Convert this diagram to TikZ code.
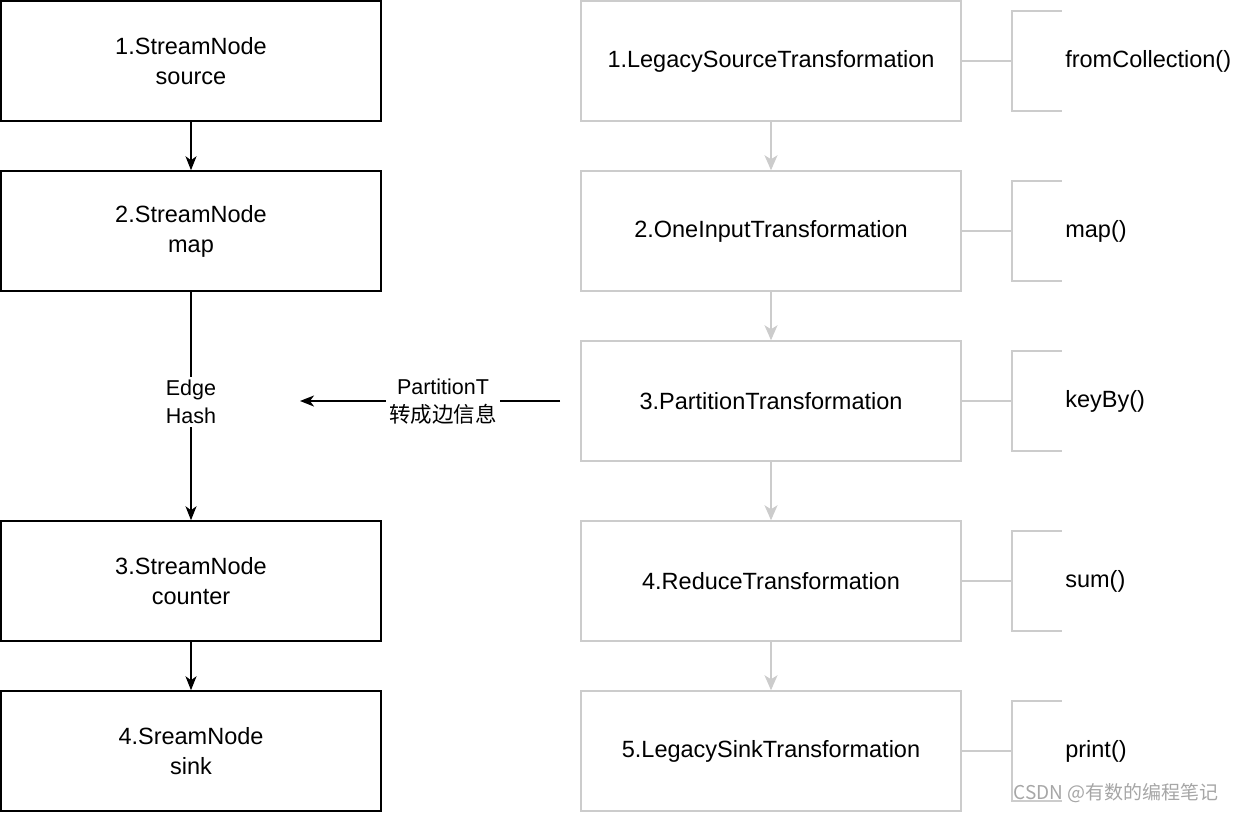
\documentclass[tikz,border=0pt]{standalone}
\usepackage{fontspec}
\setmainfont{Liberation Sans}
\newfontfamily\cjk{Noto Sans CJK SC}
\usetikzlibrary{arrows.meta}
\definecolor{lightline}{RGB}{204,204,204}
\tikzset{
  nodebox/.style={draw=black, line width=1.5pt, minimum width=380pt, minimum height=120pt, align=center, font=\fontsize{23.5}{30}\selectfont},
  transbox/.style={draw=lightline, line width=1.5pt, minimum width=380pt, minimum height=120pt, align=center, font=\fontsize{23.5}{30}\selectfont},
  blackarrow/.style={line width=1.5pt, -{Stealth[length=14pt,width=11pt,inset=4pt]}},
  grayarrow/.style={draw=lightline, line width=1.5pt, -{Stealth[length=15pt,width=13pt,inset=4pt]}},
  bracket/.style={draw=lightline, line width=1.5pt},
  apilabel/.style={anchor=west, font=\fontsize{23.5}{28}\selectfont}
}
\begin{document}
\begin{tikzpicture}[x=1pt,y=-1pt]
    \useasboundingbox (0,0) rectangle (1236,812);

    % stream nodes
    \node[nodebox] (s1) at (191,61) {1.StreamNode\\source};
    \node[nodebox] (s2) at (191,231) {2.StreamNode\\map};
    \node[nodebox] (s3) at (191,581) {3.StreamNode\\counter};
    \node[nodebox] (s4) at (191,751) {4.SreamNode\\sink};

    \draw[blackarrow] (s1) -- (s2);
    \draw[blackarrow] (s2) -- node[fill=white, align=center, font=\fontsize{21.5}{28}\selectfont, yshift=4pt] (edge) {Edge\\Hash} (s3);
    \draw[blackarrow] (s3) -- (s4);

    % transformations
    \node[transbox] (t1) at (771,61) {1.LegacySourceTransformation};
    \node[transbox] (t2) at (771,231) {2.OneInputTransformation};
    \node[transbox] (t3) at (771,401) {3.PartitionTransformation};
    \node[transbox] (t4) at (771,581) {4.ReduceTransformation};
    \node[transbox] (t5) at (771,751) {5.LegacySinkTransformation};

    \foreach \a/\b in {t1/t2,t2/t3,t3/t4,t4/t5}
        \draw[grayarrow] (\a) -- (\b);

    % partition becomes edge info
    \coordinate (pstart) at (560,401);
    \coordinate (pend) at (300,401);
    \draw[blackarrow] (pstart) -- node[fill=white, align=center, font=\fontsize{21.5}{28}\selectfont, pos=0.45, yshift=-1pt] (plabel) {PartitionT\\{\cjk 转成边信息}} (pend);

    % api brackets
    \foreach \t/\api in {t1/fromCollection(),t2/map(),t3/keyBy(),t4/sum(),t5/print()} {
        \draw[bracket] (\t.east) -- ++(50,0) coordinate (\t m);
        \draw[bracket] ([xshift=50pt,yshift=-50pt]\t m) -- ([yshift=-50pt]\t m) -- ([yshift=50pt]\t m) -- ([xshift=50pt,yshift=50pt]\t m);
        \node[apilabel] (\t api) at ([xshift=50pt]\t m) {\api};
    }

    \node[anchor=east, text=gray!70, font=\fontsize{19}{22}\cjk] (mark) at (1222,793) {CSDN @有数的编程笔记};
\end{tikzpicture}
\end{document}
